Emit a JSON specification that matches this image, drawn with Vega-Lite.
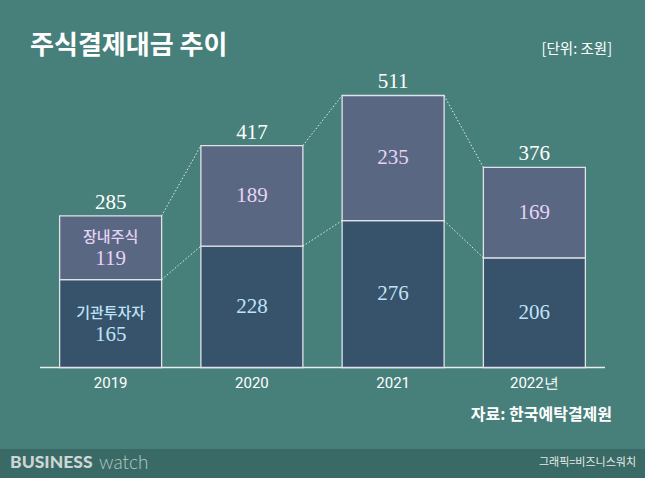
{
  "$schema": "https://vega.github.io/schema/vega-lite/v6.json",
  "width": 645,
  "height": 478,
  "autosize": {"type": "none"},
  "padding": 0,
  "background": "#47807a",
  "config": {"view": {"stroke": null}},
  "data": {"values": [
    {"year": 2019, "label": "2019", "기관투자자": 165, "장내주식": 119, "total": 285},
    {"year": 2020, "label": "2020", "기관투자자": 228, "장내주식": 189, "total": 417},
    {"year": 2021, "label": "2021", "기관투자자": 276, "장내주식": 235, "total": 511},
    {"year": 2022, "label": "2022년", "기관투자자": 206, "장내주식": 169, "total": 376}
  ]},
  "layer": [
    {
      "data": {"values": [{"a": -153.1, "b": -212}]},
      "mark": {"type": "rect", "fill": "#3a6a65"},
      "encoding": {
        "y": {"field": "a", "type": "quantitative", "scale": {"domain": [-207.6, 690.4], "nice": false, "zero": false}, "axis": null},
        "y2": {"field": "b"}
      }
    },
    {
      "data": {"values": [{"a": 2018.5, "b": 2022.5, "v": 0}]},
      "mark": {"type": "rule", "color": "#e8ecec", "strokeWidth": 1.5},
      "encoding": {
        "x": {"field": "a", "type": "quantitative", "scale": {"domain": [2018.2168, 2022.7832], "nice": false, "zero": false, "padding": 0}, "axis": null},
        "x2": {"field": "b"},
        "y": {"field": "v", "type": "quantitative", "scale": {"domain": [-207.6, 690.4], "nice": false, "zero": false}, "axis": null}
      }
    },
    {
      "mark": {"type": "bar", "width": 102, "fill": "#37526b", "stroke": "#dfe3e8", "strokeWidth": 1.3},
      "encoding": {
        "x": {"field": "year", "type": "quantitative", "scale": {"domain": [2018.2168, 2022.7832], "nice": false, "zero": false, "padding": 0}, "axis": null},
        "y": {"field": "기관투자자", "type": "quantitative", "scale": {"domain": [-207.6, 690.4], "nice": false, "zero": false}, "axis": null},
        "y2": {"datum": 0}
      }
    },
    {
      "mark": {"type": "bar", "width": 102, "fill": "#5a6782", "stroke": "#dfe3e8", "strokeWidth": 1.3},
      "encoding": {
        "x": {"field": "year", "type": "quantitative", "scale": {"domain": [2018.2168, 2022.7832], "nice": false, "zero": false, "padding": 0}, "axis": null},
        "y": {"field": "total", "type": "quantitative", "scale": {"domain": [-207.6, 690.4], "nice": false, "zero": false}, "axis": null},
        "y2": {"field": "기관투자자"}
      }
    },
    {
      "transform": [
        {"window": [
          {"op": "lead", "field": "year", "as": "ny"},
          {"op": "lead", "field": "total", "as": "nt"},
          {"op": "lead", "field": "기관투자자", "as": "ni"}
        ], "sort": [{"field": "year"}], "frame": [null, null]},
        {"filter": "datum.ny != null"}
      ],
      "layer": [
        {
          "mark": {"type": "rule", "color": "#ffffff", "strokeWidth": 1, "strokeDash": [1.5, 2], "opacity": 0.85, "xOffset": 51, "x2Offset": -51},
          "encoding": {
            "x": {"field": "year", "type": "quantitative", "scale": {"domain": [2018.2168, 2022.7832], "nice": false, "zero": false, "padding": 0}, "axis": null},
            "x2": {"field": "ny"},
            "y": {"field": "total", "type": "quantitative", "scale": {"domain": [-207.6, 690.4], "nice": false, "zero": false}, "axis": null},
            "y2": {"field": "nt"}
          }
        },
        {
          "mark": {"type": "rule", "color": "#ffffff", "strokeWidth": 1, "strokeDash": [1.5, 2], "opacity": 0.85, "xOffset": 51, "x2Offset": -51},
          "encoding": {
            "x": {"field": "year", "type": "quantitative", "scale": {"domain": [2018.2168, 2022.7832], "nice": false, "zero": false, "padding": 0}, "axis": null},
            "x2": {"field": "ny"},
            "y": {"field": "기관투자자", "type": "quantitative", "scale": {"domain": [-207.6, 690.4], "nice": false, "zero": false}, "axis": null},
            "y2": {"field": "ni"}
          }
        }
      ]
    },
    {
      "mark": {"type": "text", "font": "Liberation Serif", "fontSize": 21, "color": "#ffffff", "baseline": "alphabetic", "dy": -7},
      "encoding": {
        "x": {"field": "year", "type": "quantitative", "scale": {"domain": [2018.2168, 2022.7832], "nice": false, "zero": false, "padding": 0}, "axis": null},
        "y": {"field": "total", "type": "quantitative", "scale": {"domain": [-207.6, 690.4], "nice": false, "zero": false}, "axis": null},
        "text": {"field": "total", "type": "quantitative"}
      }
    },
    {
      "mark": {"type": "text", "font": "Roboto", "fontSize": 15, "fontWeight": 400, "color": "#ffffff", "baseline": "middle"},
      "encoding": {
        "x": {"field": "year", "type": "quantitative", "scale": {"domain": [2018.2168, 2022.7832], "nice": false, "zero": false, "padding": 0}, "axis": null},
        "y": {"datum": -29.1, "type": "quantitative", "scale": {"domain": [-207.6, 690.4], "nice": false, "zero": false}, "axis": null},
        "text": {"field": "label", "type": "nominal"}
      }
    },
    {
      "transform": [{"fold": ["기관투자자", "장내주식"], "as": ["구분", "값"]}],
      "layer": [
        {
          "transform": [{"filter": "datum.year != 2019"}],
          "mark": {"type": "text", "font": "Liberation Serif", "fontSize": 21, "baseline": "middle"},
          "encoding": {
            "x": {"field": "year", "type": "quantitative", "scale": {"domain": [2018.2168, 2022.7832], "nice": false, "zero": false, "padding": 0}, "axis": null},
            "y": {"field": "값", "type": "quantitative", "stack": "zero", "bandPosition": 0.5, "scale": {"domain": [-207.6, 690.4], "nice": false, "zero": false}, "axis": null},
            "order": {"field": "구분", "sort": "ascending"},
            "color": {"field": "구분", "type": "nominal", "scale": {"domain": ["기관투자자", "장내주식"], "range": ["#bfe3f6", "#e4d4f4"]}, "legend": null},
            "text": {"field": "값", "type": "quantitative"}
          }
        },
        {
          "transform": [{"filter": "datum.year == 2019"}],
          "mark": {"type": "text", "font": "Liberation Serif", "fontSize": 21, "baseline": "middle", "dy": 11},
          "encoding": {
            "x": {"field": "year", "type": "quantitative", "scale": {"domain": [2018.2168, 2022.7832], "nice": false, "zero": false, "padding": 0}, "axis": null},
            "y": {"field": "값", "type": "quantitative", "stack": "zero", "bandPosition": 0.5, "scale": {"domain": [-207.6, 690.4], "nice": false, "zero": false}, "axis": null},
            "order": {"field": "구분", "sort": "ascending"},
            "color": {"field": "구분", "type": "nominal", "scale": {"domain": ["기관투자자", "장내주식"], "range": ["#bfe3f6", "#e4d4f4"]}, "legend": null},
            "text": {"field": "값", "type": "quantitative"}
          }
        },
        {
          "transform": [{"filter": "datum.year == 2019"}],
          "mark": {"type": "text", "font": "Noto Sans CJK KR", "fontSize": 15, "fontWeight": 500, "baseline": "middle", "dy": -11},
          "encoding": {
            "x": {"field": "year", "type": "quantitative", "scale": {"domain": [2018.2168, 2022.7832], "nice": false, "zero": false, "padding": 0}, "axis": null},
            "y": {"field": "값", "type": "quantitative", "stack": "zero", "bandPosition": 0.5, "scale": {"domain": [-207.6, 690.4], "nice": false, "zero": false}, "axis": null},
            "order": {"field": "구분", "sort": "ascending"},
            "color": {"field": "구분", "type": "nominal", "scale": {"domain": ["기관투자자", "장내주식"], "range": ["#bfe3f6", "#e4d4f4"]}, "legend": null},
            "text": {"field": "구분", "type": "nominal"}
          }
        }
      ]
    },
    {
      "data": {"values": [{"t": "주식결제대금 추이", "x": 2018.43, "y": 604}]},
      "mark": {"type": "text", "baseline": "middle", "align": "left", "font": "Noto Sans CJK KR", "fontSize": 26, "fontWeight": 700, "color": "#ffffff"},
      "encoding": {
        "x": {"field": "x", "type": "quantitative", "scale": {"domain": [2018.2168, 2022.7832], "nice": false, "zero": false, "padding": 0}, "axis": null},
        "y": {"field": "y", "type": "quantitative", "scale": {"domain": [-207.6, 690.4], "nice": false, "zero": false}, "axis": null},
        "text": {"field": "t", "type": "nominal"}
      }
    },
    {
      "data": {"values": [{"t": "[단위: 조원]", "x": 2022.55, "y": 596.5}]},
      "mark": {"type": "text", "baseline": "middle", "align": "right", "font": "Noto Sans CJK KR", "fontSize": 14.5, "color": "#ffffff"},
      "encoding": {
        "x": {"field": "x", "type": "quantitative", "scale": {"domain": [2018.2168, 2022.7832], "nice": false, "zero": false, "padding": 0}, "axis": null},
        "y": {"field": "y", "type": "quantitative", "scale": {"domain": [-207.6, 690.4], "nice": false, "zero": false}, "axis": null},
        "text": {"field": "t", "type": "nominal"}
      }
    },
    {
      "data": {"values": [{"t": "자료: 한국예탁결제원", "x": 2022.55, "y": -89.2}]},
      "mark": {"type": "text", "baseline": "middle", "align": "right", "font": "Noto Sans CJK KR", "fontSize": 16, "fontWeight": 700, "color": "#ffffff"},
      "encoding": {
        "x": {"field": "x", "type": "quantitative", "scale": {"domain": [2018.2168, 2022.7832], "nice": false, "zero": false, "padding": 0}, "axis": null},
        "y": {"field": "y", "type": "quantitative", "scale": {"domain": [-207.6, 690.4], "nice": false, "zero": false}, "axis": null},
        "text": {"field": "t", "type": "nominal"}
      }
    },
    {
      "data": {"values": [{"t": "그래픽=비즈니스워치", "x": 2022.72, "y": -179.4}]},
      "mark": {"type": "text", "baseline": "middle", "align": "right", "font": "Noto Sans CJK KR", "fontSize": 11, "color": "#e4eaea"},
      "encoding": {
        "x": {"field": "x", "type": "quantitative", "scale": {"domain": [2018.2168, 2022.7832], "nice": false, "zero": false, "padding": 0}, "axis": null},
        "y": {"field": "y", "type": "quantitative", "scale": {"domain": [-207.6, 690.4], "nice": false, "zero": false}, "axis": null},
        "text": {"field": "t", "type": "nominal"}
      }
    },
    {
      "data": {"values": [{"t": "BUSINESS", "x": 2018.288, "y": -179.4}]},
      "mark": {"type": "text", "baseline": "middle", "align": "left", "font": "Lato", "fontSize": 17.5, "fontWeight": 900, "color": "#cdd6d6"},
      "encoding": {
        "x": {"field": "x", "type": "quantitative", "scale": {"domain": [2018.2168, 2022.7832], "nice": false, "zero": false, "padding": 0}, "axis": null},
        "y": {"field": "y", "type": "quantitative", "scale": {"domain": [-207.6, 690.4], "nice": false, "zero": false}, "axis": null},
        "text": {"field": "t", "type": "nominal"}
      }
    },
    {
      "data": {"values": [{"t": "watch", "x": 2018.918, "y": -179.4}]},
      "mark": {"type": "text", "baseline": "middle", "align": "left", "font": "Lato", "fontSize": 19, "fontWeight": 300, "color": "#b7c8c6"},
      "encoding": {
        "x": {"field": "x", "type": "quantitative", "scale": {"domain": [2018.2168, 2022.7832], "nice": false, "zero": false, "padding": 0}, "axis": null},
        "y": {"field": "y", "type": "quantitative", "scale": {"domain": [-207.6, 690.4], "nice": false, "zero": false}, "axis": null},
        "text": {"field": "t", "type": "nominal"}
      }
    }
  ]
}
